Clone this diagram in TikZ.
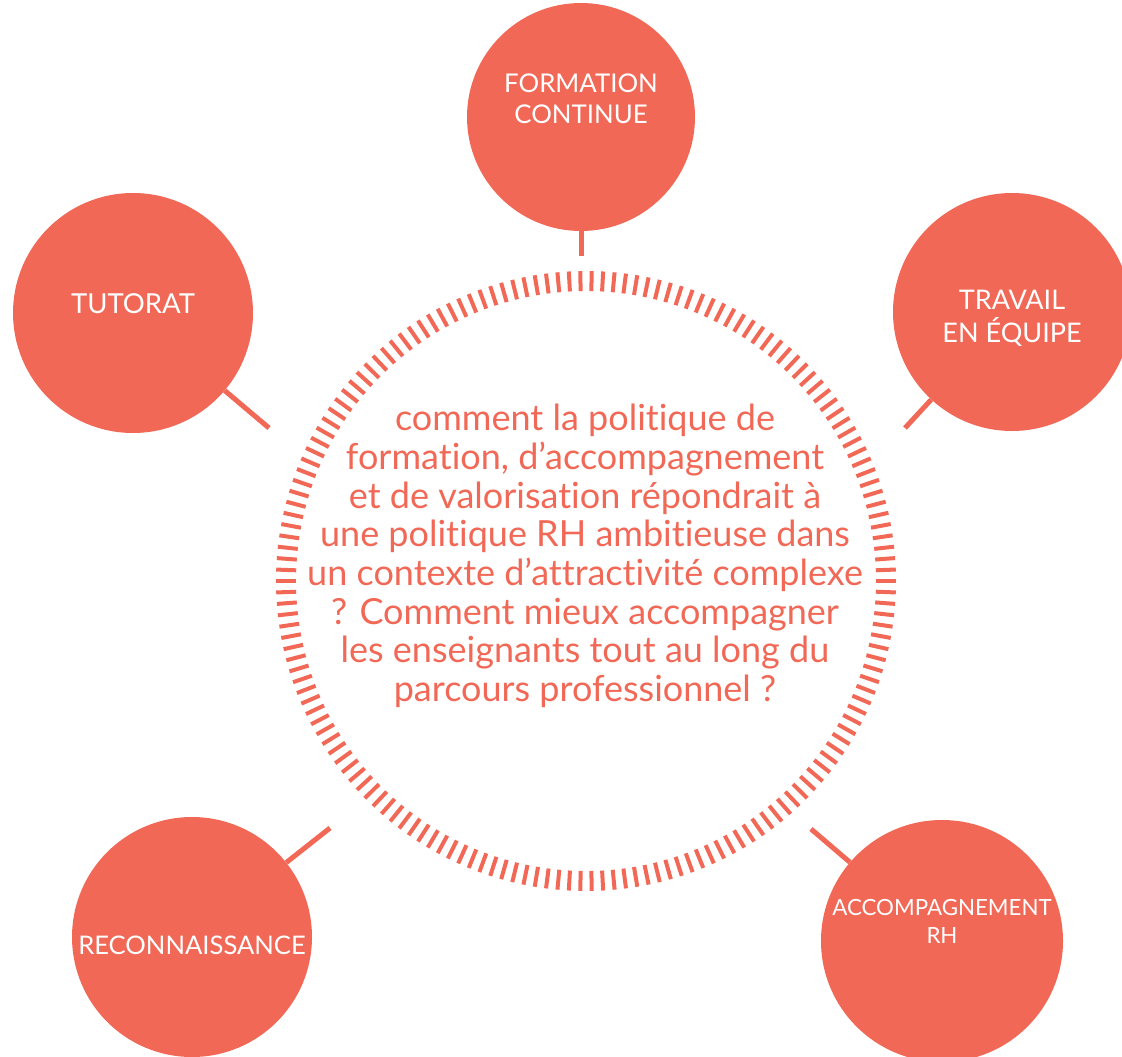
\documentclass[tikz,border=0pt]{standalone}
\usepackage{fontspec}
\setmainfont[Ligatures=NoCommon]{Lato}
\usetikzlibrary{positioning}
\definecolor{corail}{RGB}{242,104,86}

\begin{document}
\begin{tikzpicture}[x=1pt, y=-1pt,
    bubble/.style={circle, fill=corail, minimum size=240pt, inner sep=0pt},
    caption/.style={text=white, align=center, inner sep=0pt},
    stem/.style={draw=corail, line width=5pt},
    tick/.style={draw=corail, line width=4pt}]
    \useasboundingbox (0,0) rectangle (1122,1057);

    % centre ring and question
    \coordinate (ring) at (586,581);
    \foreach \a [evaluate=\a as \ang using \a/170*360] in {0,...,169}
        \draw[tick] ([shift={(\ang:290)}]ring) -- ([shift={(\ang:310)}]ring);
    \node[text=corail, align=center, font=\fontsize{36}{38.7}\selectfont] (question) at (585,556)
        {comment la politique de\\formation, d’accompagnement\\et de valorisation répondrait à\\une politique RH ambitieuse dans\\un contexte d’attractivité complexe\\? Comment mieux accompagner\\les enseignants tout au long du\\parcours professionnel ?};

    % the five themes
    \node[bubble, minimum size=228pt, label={[caption, yshift=18pt, font=\fontsize{25.8}{31}\selectfont]center:FORMATION\\CONTINUE}] (formation) at (581,117) {};
    \node[bubble, label={[caption, yshift=9pt, font=\fontsize{27.5}{32}\selectfont]center:TUTORAT}] (tutorat) at (133,313) {};
    \node[bubble, minimum size=238pt, label={[caption, yshift=-6pt, font=\fontsize{27}{33}\selectfont]center:TRAVAIL\\EN ÉQUIPE}] (travail) at (1012,312) {};
    \node[bubble, label={[caption, yshift=-8pt, font=\fontsize{25.6}{30}\selectfont]center:RECONNAISSANCE}] (reconnaissance) at (192,937) {};
    \node[bubble, minimum size=242pt, label={[caption, yshift=20pt, font=\fontsize{22.3}{28}\selectfont]center:ACCOMPAGNEMENT\\RH}] (accompagnement) at (942,941) {};

    % stems towards the ring
    \coordinate (formationend) at (581,256);
    \coordinate (tutoratend) at (269,428);
    \coordinate (travailend) at (905,428);
    \coordinate (reconnaissanceend) at (330,828);
    \coordinate (accompagnementend) at (811,829);
    \draw[stem] (formation) -- (formationend);
    \draw[stem] (tutorat) -- (tutoratend);
    \draw[stem] (travail) -- (travailend);
    \draw[stem] (reconnaissance) -- (reconnaissanceend);
    \draw[stem] (accompagnement) -- (accompagnementend);
\end{tikzpicture}
\end{document}
